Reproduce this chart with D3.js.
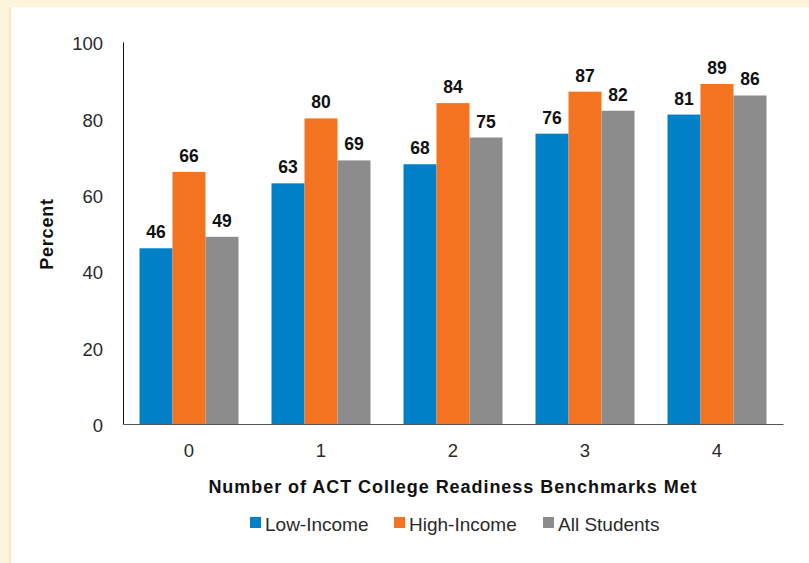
<!DOCTYPE html>
<html>
<head>
<meta charset="utf-8">
<script src="https://cdn.jsdelivr.net/npm/d3@7"></script>
<style>
  html, body { margin: 0; padding: 0; background: #FDF4DC; }
  svg { display: block; }
</style>
</head>
<body>
<svg id="chart" width="809" height="563"></svg>
<script>
const categories = ["0", "1", "2", "3", "4"];
const seriesNames = ["Low-Income", "High-Income", "All Students"];
const lowIncome = [46, 63, 68, 76, 81];
const highIncome = [66, 80, 84, 87, 89];
const allStudents = [49, 69, 75, 82, 86];
const yTicks = [0, 20, 40, 60, 80, 100];
const colors = ["#0080C6", "#F47321", "#8C8C8C"];
const seriesValues = [lowIncome, highIncome, allStudents];

const svg = d3.select("#chart");
const W = 809, H = 563;
const font = "'Liberation Sans', Arial, sans-serif";

// frame
svg.append("rect").attr("x", 0).attr("y", 0).attr("width", W).attr("height", H).attr("fill", "#FDF4DC");
const defs = svg.append("defs");
const grad = defs.append("linearGradient").attr("id", "shadow").attr("x1", 0).attr("x2", 1);
grad.append("stop").attr("offset", "0%").attr("stop-color", "#FDF4DC");
grad.append("stop").attr("offset", "100%").attr("stop-color", "#F3E6C6");
svg.append("rect").attr("x", 7).attr("y", 7).attr("width", 4).attr("height", H - 7).attr("fill", "url(#shadow)");
svg.append("rect").attr("x", 11).attr("y", 7).attr("width", W - 11).attr("height", H - 7).attr("fill", "#FFFFFF");

const mLeft = 123, mRight = 783, mTop = 42, mBottom = 424;

const x0 = d3.scaleBand().domain(categories).range([mLeft, mRight]).paddingInner(0.25).paddingOuter(0.125);
const x1 = d3.scaleBand().domain(seriesNames).range([0, x0.bandwidth()]).padding(0);
const y = d3.scaleLinear().domain([0, 100]).range([mBottom, mTop]);

// bars
const groups = svg.append("g").selectAll("g").data(categories).join("g")
  .attr("transform", d => `translate(${x0(d)},0)`);

groups.each(function(cat, ci) {
  const g = d3.select(this);
  seriesNames.forEach((s, si) => {
    const v = seriesValues[si][ci];
    g.append("rect")
      .attr("x", x1(s))
      .attr("y", y(v))
      .attr("width", x1.bandwidth())
      .attr("height", y(0) - y(v))
      .attr("fill", colors[si]);
    g.append("text")
      .attr("x", x1(s) + x1.bandwidth() / 2)
      .attr("y", y(v) - 10)
      .attr("text-anchor", "middle")
      .attr("font-family", font)
      .attr("font-weight", "bold")
      .attr("font-size", 17.5)
      .attr("fill", "#111")
      .text(v);
  });
});

// y axis
const yAxis = d3.axisLeft(y).tickValues(yTicks).tickSize(0).tickPadding(20);
const ya = svg.append("g").attr("transform", `translate(${mLeft},0)`).call(yAxis);
ya.select(".domain").attr("stroke", "#111").attr("stroke-width", 1);
ya.selectAll("text").attr("font-family", font).attr("font-size", 18.5).attr("fill", "#2a2a2a")
  .attr("dy", "0.42em");

// x axis
const xAxis = d3.axisBottom(x0).tickSize(0).tickPadding(20);
const xa = svg.append("g").attr("transform", `translate(0,${mBottom})`).call(xAxis);
xa.select(".domain").attr("stroke", "#555").attr("stroke-width", 1.2);
xa.selectAll("text").attr("font-family", font).attr("font-size", 18.5).attr("fill", "#2a2a2a");

// axis titles
svg.append("text")
  .attr("x", (mLeft + mRight) / 2)
  .attr("y", 493)
  .attr("text-anchor", "middle")
  .attr("font-family", font).attr("font-weight", "bold").attr("font-size", 18)
  .attr("letter-spacing", 0.95)
  .attr("fill", "#111")
  .text("Number of ACT College Readiness Benchmarks Met");

svg.append("text")
  .attr("transform", `translate(53,234) rotate(-90)`)
  .attr("text-anchor", "middle")
  .attr("font-family", font).attr("font-weight", "bold").attr("font-size", 18)
  .attr("letter-spacing", 0.8)
  .attr("fill", "#111")
  .text("Percent");

// legend
const legendX = [250, 394, 543];
const lg = svg.append("g");
seriesNames.forEach((s, i) => {
  lg.append("rect").attr("x", legendX[i]).attr("y", 517).attr("width", 11).attr("height", 11).attr("fill", colors[i]);
  lg.append("text").attr("x", legendX[i] + 15).attr("y", 531)
    .attr("font-family", font).attr("font-size", 19).attr("fill", "#2a2a2a")
    .text(s);
});
</script>
</body>
</html>
